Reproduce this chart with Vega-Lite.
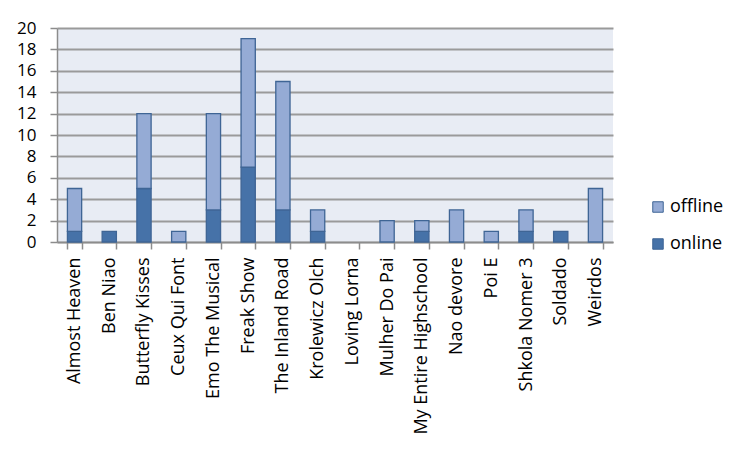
{
  "$schema": "https://vega.github.io/schema/vega-lite/v6.json",
  "autosize": {"type": "none"},
  "padding": {"left": 57, "top": 28, "right": 140, "bottom": 210},
  "width": 556,
  "height": 214,
  "background": "white",
  "config": {
    "view": {"fill": "#e8ecf4", "stroke": null},
    "font": "Open Sans",
    "axis": {"labelFont": "Open Sans", "labelColor": "black", "domainColor": "#8c8c8c", "tickColor": "#8c8c8c"}
  },
  "data": {"values": [
    {"film": "Almost Heaven", "type": "online", "count": 1}, {"film": "Almost Heaven", "type": "offline", "count": 4},
    {"film": "Ben Niao", "type": "online", "count": 1}, {"film": "Ben Niao", "type": "offline", "count": 0},
    {"film": "Butterfly Kisses", "type": "online", "count": 5}, {"film": "Butterfly Kisses", "type": "offline", "count": 7},
    {"film": "Ceux Qui Font", "type": "online", "count": 0}, {"film": "Ceux Qui Font", "type": "offline", "count": 1},
    {"film": "Emo The Musical", "type": "online", "count": 3}, {"film": "Emo The Musical", "type": "offline", "count": 9},
    {"film": "Freak Show", "type": "online", "count": 7}, {"film": "Freak Show", "type": "offline", "count": 12},
    {"film": "The Inland Road", "type": "online", "count": 3}, {"film": "The Inland Road", "type": "offline", "count": 12},
    {"film": "Krolewicz Olch", "type": "online", "count": 1}, {"film": "Krolewicz Olch", "type": "offline", "count": 2},
    {"film": "Loving Lorna", "type": "online", "count": 0}, {"film": "Loving Lorna", "type": "offline", "count": 0},
    {"film": "Mulher Do Pai", "type": "online", "count": 0}, {"film": "Mulher Do Pai", "type": "offline", "count": 2},
    {"film": "My Entire Highschool", "type": "online", "count": 1}, {"film": "My Entire Highschool", "type": "offline", "count": 1},
    {"film": "Nao devore", "type": "online", "count": 0}, {"film": "Nao devore", "type": "offline", "count": 3},
    {"film": "Poi E", "type": "online", "count": 0}, {"film": "Poi E", "type": "offline", "count": 1},
    {"film": "Shkola Nomer 3", "type": "online", "count": 1}, {"film": "Shkola Nomer 3", "type": "offline", "count": 2},
    {"film": "Soldado", "type": "online", "count": 1}, {"film": "Soldado", "type": "offline", "count": 0},
    {"film": "Weirdos", "type": "online", "count": 0}, {"film": "Weirdos", "type": "offline", "count": 5}
  ]},
  "transform": [{"filter": "datum.count > 0"}],
  "mark": {"type": "bar", "stroke": "#3f6595", "strokeWidth": 1.3},
  "encoding": {
    "x": {
      "field": "film", "type": "nominal",
      "scale": {"domain": ["Almost Heaven", "Ben Niao", "Butterfly Kisses", "Ceux Qui Font", "Emo The Musical", "Freak Show", "The Inland Road", "Krolewicz Olch", "Loving Lorna", "Mulher Do Pai", "My Entire Highschool", "Nao devore", "Poi E", "Shkola Nomer 3", "Soldado", "Weirdos"], "paddingInner": 0.59, "paddingOuter": 0.3},
      "axis": {"title": null, "labelAngle": -90, "labelFontSize": 18, "labelPadding": 8, "tickBand": "extent", "tickSize": 7, "domainWidth": 1.5, "tickWidth": 1.5, "grid": false}
    },
    "y": {
      "field": "count", "type": "quantitative", "aggregate": "sum", "stack": "zero",
      "scale": {"domain": [0, 20]},
      "axis": {"title": null, "values": [0, 2, 4, 6, 8, 10, 12, 14, 16, 18, 20], "labelFontSize": 17, "labelPadding": 14, "tickSize": 7, "tickWidth": 1.5, "domainWidth": 1.5, "gridColor": "#9a9a9a", "gridWidth": 1.8}
    },
    "color": {
      "field": "type", "type": "nominal",
      "scale": {"domain": ["offline", "online"], "range": ["#95abd5", "#4672a8"]},
      "legend": {
        "title": null, "orient": "none", "legendX": 592, "legendY": 170,
        "symbolType": "square", "symbolSize": 110, "symbolStrokeColor": "#3f6595", "symbolStrokeWidth": 1,
        "labelFontSize": 18, "labelFont": "Open Sans", "labelColor": "black", "rowPadding": 19, "labelOffset": 3
      }
    },
    "order": {"field": "type", "sort": "descending"}
  }
}
